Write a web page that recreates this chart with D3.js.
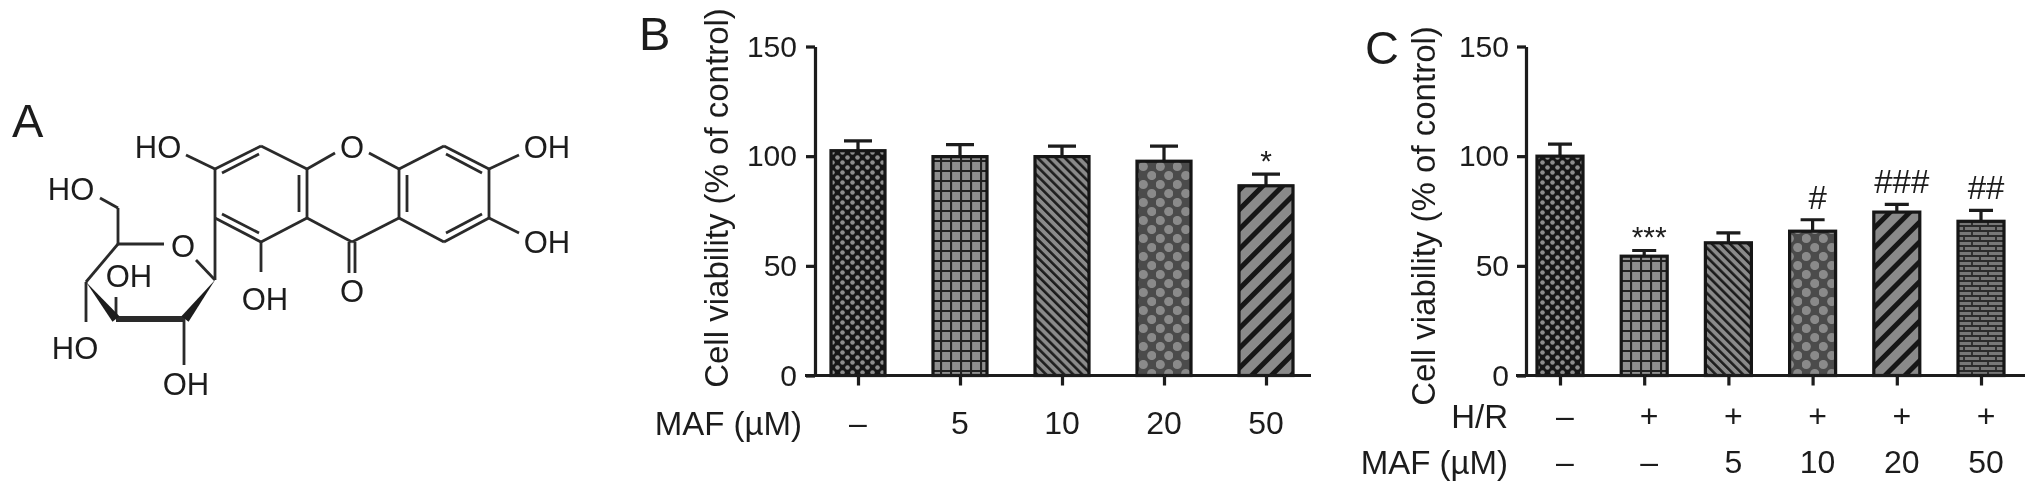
<!DOCTYPE html>
<html>
<head>
<meta charset="utf-8">
<script src="https://cdn.jsdelivr.net/npm/d3@7"></script>
<style>
html, body { margin: 0; padding: 0; background: #fff; }
svg { display: block; }
text { font-family: "Liberation Sans", Arial, sans-serif; fill: #1c1c1c; }
</style>
</head>
<body>
<div id="chart"></div>
<script>
// panel B values
var bDoses = ['\u2013', '5', '10', '20', '50'];
var bValues = [102.5, 99.8, 99.8, 97.7, 86.5];
var bErrTops = [107, 105.3, 104.6, 104.6, 91.8];
var bPatterns = ['check', 'grid', 'back', 'diamond', 'fwd'];
var bMarks = ['', '', '', '', '*'];

// panel C values
var cHR = ['\u2013', '+', '+', '+', '+', '+'];
var cDoses = ['\u2013', '\u2013', '5', '10', '20', '50'];
var cValues = [100, 54.4, 60.5, 65.8, 74.5, 70.3];
var cErrTops = [105.5, 57, 65, 71, 78, 75.3];
var cPatterns = ['check', 'grid', 'back', 'diamond', 'fwd', 'brick'];
var cMarks = ['', '***', '', '#', '###', '##'];

var yTicks = [0, 50, 100, 150];

// structure in panel A, in drawing units of the crop
var singleBonds = [
  [[215,169],[261,146]], [[261,146],[307,169]], [[307,169],[307,218]], [[307,218],[261,242]],
  [[261,242],[215,218]], [[215,218],[215,169]],
  [[307,169],[335,153]], [[369,153],[399,169]], [[399,169],[399,218]], [[399,218],[352,242]],
  [[352,242],[307,218]], [[399,169],[444,146]], [[444,146],[489,169]], [[489,169],[489,218]],
  [[489,218],[444,242]], [[444,242],[399,218]],
  [[215,169],[186,155]], [[489,169],[519,155]], [[489,218],[519,233]], [[261,242],[261,272]],
  [[215,218],[215,280]], [[118,244],[164,244]], [[196,260],[215,280]], [[118,244],[86,282]],
  [[118,244],[118,208]], [[118,208],[100,198]], [[86,282],[86,322]], [[116,319],[116,297]],
  [[184,319],[184,365]]
];
var innerBonds = [
  [[222,173],[259,154]], [[299,175],[299,212]], [[222,214],[259,233]],
  [[407,175],[407,212]], [[446,154],[482,173]], [[482,214],[446,233]]
];
var ketoneBonds = [[[349,242],[349,273]], [[355,242],[355,273]]];
var wedges = [
  [[86,282],[116,319]],
  [[215,280],[185,319]]
];
var boldBonds = [[[116,319],[185,319]]];
var atomLabels = [
  ['HO',158,147], ['O',352,147], ['OH',547,147], ['OH',547,242], ['OH',265,299], ['O',352,291],
  ['HO',71,189], ['O',183,246], ['OH',129,276], ['HO',75,348], ['OH',186,384]
];

var chartDiv = document.getElementById("chart");
var width = 2032, height = 491;

var svg = d3.select(chartDiv).append("svg")
    .attr("width", width)
    .attr("height", height);

var defs = svg.append("defs");

defs.append("filter").attr("id", "soft")
    .attr("filterUnits", "userSpaceOnUse")
    .attr("x", 0).attr("y", 0)
    .attr("width", width).attr("height", height)
  .append("feGaussianBlur").attr("stdDeviation", 0.6);

function addPattern(id, w, h, bg, draw, transform) {
    var p = defs.append("pattern").attr("id", id)
        .attr("patternUnits", "userSpaceOnUse")
        .attr("width", w).attr("height", h);
    if (transform) p.attr("patternTransform", transform);
    p.append("rect").attr("width", w).attr("height", h).attr("fill", bg);
    draw(p);
}

addPattern("check", 10, 10, "#141414", function(p) {
    [[2.5, 2.5], [7.5, 7.5]].forEach(function(c) {
        p.append("circle").attr("cx", c[0]).attr("cy", c[1]).attr("r", 2.3).attr("fill", "#8e8e8e");
    });
});
addPattern("grid", 10, 10, "#8f8f8f", function(p) {
    p.append("path").attr("d", "M1,0V10M0,1H10").attr("stroke", "#222").attr("stroke-width", 2.2);
});
addPattern("back", 6.4, 6.4, "#8a8a8a", function(p) {
    p.append("rect").attr("width", 2.6).attr("height", 6.4).attr("fill", "#1e1e1e");
}, "rotate(-45)");
addPattern("diamond", 17, 18, "#4c4c4c", function(p) {
    [[4.25, 4.5], [12.75, 13.5]].forEach(function(c) {
        p.append("circle").attr("cx", c[0]).attr("cy", c[1]).attr("r", 4.6).attr("fill", "#8a8a8a");
    });
});
addPattern("fwd", 14, 14, "#8a8a8a", function(p) {
    p.append("rect").attr("width", 5).attr("height", 14).attr("fill", "#141414");
}, "rotate(45)");
addPattern("brick", 16, 10, "#777", function(p) {
    p.append("path").attr("d", "M0,1H16M0,6H16M4,1V6M12,6V10M12,0V1").attr("stroke", "#2a2a2a").attr("stroke-width", 1.8).attr("fill", "none");
});

var root = svg.append("g").attr("filter", "url(#soft)");

function panelLetter(txt, x, y) {
    root.append("text").attr("x", x).attr("y", y)
        .attr("font-size", 47).text(txt);
}

function drawPanel(cfg) {
    var g = root.append("g");
    var y = d3.scaleLinear().domain([0, 150]).range([cfg.y0, cfg.y150]);
    var x = d3.scalePoint().domain(d3.range(cfg.values.length)).range(cfg.xRange);

    var yAxis = d3.axisLeft(y).tickValues(yTicks).tickSize(9).tickSizeOuter(0);
    var xAxis = d3.axisBottom(x).tickSize(10).tickSizeOuter(0).tickFormat("");

    // bars first, the axis sits on top of their feet
    g.selectAll(".err").data(cfg.values).enter().append("path")
        .attr("fill", "none").attr("stroke", "#1a1a1a").attr("stroke-width", 3.2)
        .attr("d", function(d, i) {
            var c = x(i), t = y(cfg.errTops[i]);
            return "M" + c + "," + y(d) + "V" + t + "M" + (c - cfg.capW / 2) + "," + t + "H" + (c + cfg.capW / 2);
        });

    g.selectAll(".bar").data(cfg.values).enter().append("rect")
        .attr("x", function(d, i) { return x(i) - cfg.barW / 2; })
        .attr("y", function(d) { return y(d); })
        .attr("width", cfg.barW)
        .attr("height", function(d) { return y(0) - y(d); })
        .attr("fill", function(d, i) { return "url(#" + cfg.patterns[i] + ")"; })
        .attr("stroke", "#141414")
        .attr("stroke-width", 3.2);

    var ya = g.append("g").attr("transform", "translate(" + cfg.axisX + ",0)").call(yAxis);
    ya.selectAll("text").attr("font-size", cfg.tickSize).attr("dx", cfg.tickDx).attr("font-family", null);
    ya.selectAll("line").attr("stroke", "#1a1a1a").attr("stroke-width", 3.2);
    ya.select(".domain").attr("stroke", "#1a1a1a").attr("stroke-width", 3.2);

    var xa = g.append("g").attr("transform", "translate(0," + cfg.y0 + ")").call(xAxis);
    xa.selectAll("line").attr("stroke", "#1a1a1a").attr("stroke-width", 3.2);
    xa.select(".domain").attr("stroke", "#1a1a1a").attr("stroke-width", 3.2)
        .attr("d", "M" + cfg.xStart + ",0H" + cfg.xEnd);

    // y title
    g.append("text")
        .attr("transform", "translate(" + cfg.titleX + "," + cfg.titleY + ") rotate(-90)")
        .attr("text-anchor", "middle")
        .attr("font-size", 33)
        .text("Cell viability (% of control)");

    // rows under the axis
    cfg.rows.forEach(function(row) {
        g.append("text")
            .attr("x", cfg.rowLabelX).attr("y", row.y)
            .attr("text-anchor", "end").attr("dominant-baseline", "central")
            .attr("font-size", 33)
            .text(row.label);
        g.selectAll(".cell").data(row.cells).enter().append("text")
            .attr("x", function(d, i) { return x(i) + cfg.cellDx; })
            .attr("y", row.y)
            .attr("text-anchor", "middle").attr("dominant-baseline", "central")
            .attr("font-size", 32)
            .text(function(d) { return d; });
    });

    // significance marks sit above the error caps
    g.selectAll(".mark").data(cfg.marks).enter().append("text")
        .attr("x", function(d, i) { return x(i) + cfg.cellDx; })
        .attr("y", function(d, i) {
            var t = y(cfg.errTops[i]);
            return d.charAt(0) == "*" ? t - 3 : t - 11;
        })
        .attr("text-anchor", "middle")
        .attr("font-size", function(d) { return d.charAt(0) == "*" ? 30 : 33; })
        .text(function(d) { return d; });
}

function drawMolecule() {
    var m = root.append("g");
    var line = d3.line();
    function bonds(list, w) {
        m.selectAll(null).data(list).enter().append("path")
            .attr("d", function(d) { return line(d); })
            .attr("fill", "none").attr("stroke", "#2a2a2a").attr("stroke-width", w);
    }
    bonds(singleBonds, 2.8);
    bonds(innerBonds, 2.8);
    bonds(ketoneBonds, 2.8);
    bonds(boldBonds, 6);
    // wedge widens across the bond direction towards its far end
    m.selectAll(null).data(wedges).enter().append("path")
        .attr("fill", "#1c1c1c")
        .attr("d", function(d) {
            var a = d[0], b = d[1];
            var dx = b[0] - a[0], dy = b[1] - a[1], len = Math.sqrt(dx * dx + dy * dy);
            var px = -dy / len * 4.5, py = dx / len * 4.5;
            return "M" + a[0] + "," + a[1] + "L" + (b[0] + px) + "," + (b[1] + py) + "L" + (b[0] - px) + "," + (b[1] - py) + "Z";
        });
    m.selectAll(null).data(atomLabels).enter().append("text")
        .attr("x", function(d) { return d[1]; })
        .attr("y", function(d) { return d[2]; })
        .attr("text-anchor", "middle").attr("dominant-baseline", "central")
        .attr("font-size", 31)
        .text(function(d) { return d[0]; });
}

panelLetter("A", 12, 137);
panelLetter("B", 639, 50);
panelLetter("C", 1365, 64);

drawMolecule();

drawPanel({
    values: bValues, errTops: bErrTops, patterns: bPatterns, marks: bMarks,
    xRange: [858, 1266], axisX: 815, xStart: 805, xEnd: 1311,
    y0: 375.5, y150: 46.5, barW: 54, capW: 28,
    tickSize: 30, tickDx: -6, cellDx: 0,
    titleX: 728, titleY: 198,
    rowLabelX: 802, rows: [{ label: "MAF (\u00b5M)", y: 423, cells: bDoses }]
});

drawPanel({
    values: cValues, errTops: cErrTops, patterns: cPatterns, marks: cMarks,
    xRange: [1560, 1981], axisX: 1526, xStart: 1516, xEnd: 2025,
    y0: 375.5, y150: 46.5, barW: 46, capW: 24,
    tickSize: 30, tickDx: -5, cellDx: 5,
    titleX: 1435, titleY: 216,
    rowLabelX: 1508, rows: [
        { label: "H/R", y: 416, cells: cHR },
        { label: "MAF (\u00b5M)", y: 462, cells: cDoses }
    ]
});
</script>
</body>
</html>
